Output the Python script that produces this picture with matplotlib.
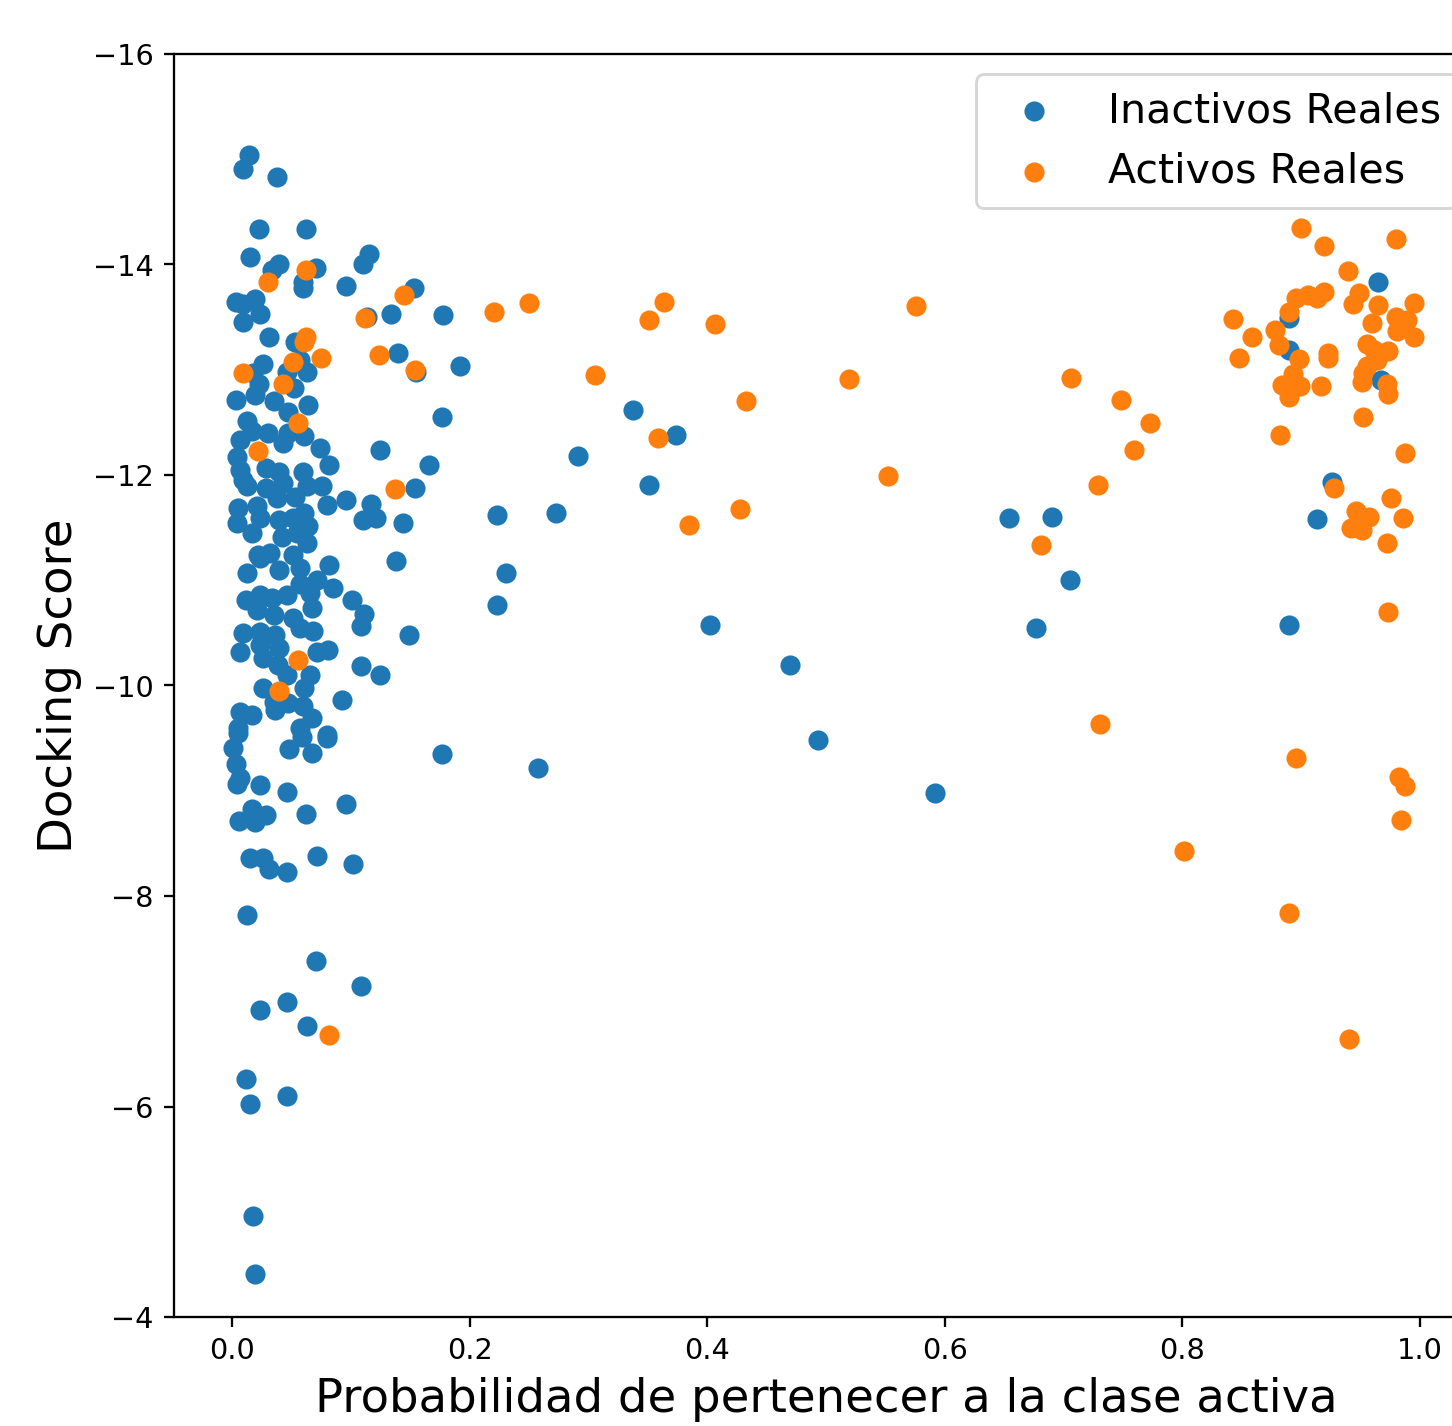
import matplotlib
matplotlib.use("Agg")
import matplotlib.pyplot as plt

# probabilidad predicha / docking score de los inactivos reales
inactivos_prob = [
    0.014, 0.009, 0.038, 0.023, 0.062, 0.015, 0.040, 0.034, 0.071, 0.060,
    0.060, 0.096, 0.115, 0.110, 0.153, 0.003, 0.009, 0.019, 0.024, 0.009,
    0.134, 0.114, 0.178, 0.031, 0.053, 0.140, 0.057, 0.063, 0.026, 0.018,
    0.023, 0.046, 0.052, 0.155, 0.192, 0.177, 0.003, 0.019, 0.035, 0.064,
    0.047, 0.013, 0.017, 0.007, 0.030, 0.043, 0.047, 0.061, 0.074, 0.004,
    0.082, 0.007, 0.029, 0.040, 0.060, 0.009, 0.013, 0.029, 0.043, 0.063,
    0.076, 0.080, 0.096, 0.005, 0.021, 0.038, 0.053, 0.061, 0.004, 0.017,
    0.024, 0.040, 0.051, 0.064, 0.042, 0.055, 0.063, 0.022, 0.032, 0.051,
    0.110, 0.117, 0.121, 0.144, 0.125, 0.166, 0.154, 0.138,
    0.024, 0.013, 0.040, 0.057, 0.082, 0.072, 0.085, 0.057, 0.046, 0.012,
    0.024, 0.034, 0.066, 0.067, 0.101, 0.111, 0.109, 0.021, 0.035, 0.051,
    0.057, 0.068, 0.009, 0.024, 0.036, 0.007, 0.024, 0.040, 0.026, 0.039,
    0.072, 0.081, 0.109, 0.026, 0.046, 0.066, 0.061, 0.035, 0.036, 0.047,
    0.060, 0.067, 0.093, 0.007, 0.017, 0.005, 0.057, 0.080, 0.125, 0.149,
    0.005, 0.001, 0.003, 0.007, 0.004, 0.024, 0.048, 0.059, 0.067, 0.080,
    0.046, 0.096, 0.017, 0.029, 0.006, 0.019, 0.062, 0.015, 0.026, 0.031,
    0.046, 0.072, 0.102, 0.177, 0.258,
    0.013, 0.071, 0.109, 0.046, 0.024, 0.063, 0.012, 0.015, 0.046, 0.018,
    0.019,
    0.231, 0.223, 0.223, 0.273, 0.291, 0.351, 0.338, 0.374,
    0.402, 0.470, 0.493, 0.592, 0.654, 0.690, 0.705, 0.677,
    0.890, 0.890, 0.965, 0.967, 0.926, 0.913, 0.890,
]
inactivos_score = [
    -15.04, -14.91, -14.83, -14.34, -14.34, -14.07, -14.00, -13.95, -13.97, -13.83,
    -13.78, -13.79, -14.10, -14.00, -13.78, -13.64, -13.62, -13.67, -13.53, -13.45,
    -13.53, -13.50, -13.52, -13.31, -13.26, -13.16, -13.09, -12.98, -13.05, -12.97,
    -12.86, -12.98, -12.83, -12.98, -13.03, -12.55, -12.71, -12.76, -12.70, -12.66,
    -12.60, -12.51, -12.42, -12.33, -12.40, -12.30, -12.40, -12.37, -12.26, -12.17,
    -12.09, -12.05, -12.07, -12.03, -12.03, -11.95, -11.89, -11.88, -11.92, -11.89,
    -11.89, -11.71, -11.76, -11.69, -11.70, -11.78, -11.79, -11.64, -11.54, -11.45,
    -11.59, -11.57, -11.59, -11.51, -11.41, -11.45, -11.35, -11.24, -11.26, -11.24,
    -11.57, -11.72, -11.59, -11.54, -12.24, -12.09, -11.88, -11.18,
    -11.21, -11.07, -11.10, -11.12, -11.14, -11.00, -10.93, -10.96, -10.86, -10.81,
    -10.86, -10.83, -10.88, -10.74, -10.81, -10.68, -10.56, -10.72, -10.67, -10.64,
    -10.55, -10.52, -10.50, -10.51, -10.48, -10.32, -10.38, -10.36, -10.26, -10.19,
    -10.32, -10.34, -10.18, -9.98, -10.10, -10.10, -9.98, -9.84, -9.77, -9.83,
    -9.80, -9.69, -9.86, -9.75, -9.72, -9.60, -9.60, -9.53, -10.10, -10.48,
    -9.55, -9.41, -9.25, -9.12, -9.06, -9.05, -9.40, -9.51, -9.36, -9.50,
    -8.99, -8.87, -8.83, -8.77, -8.71, -8.70, -8.78, -8.36, -8.36, -8.26,
    -8.23, -8.38, -8.30, -9.35, -9.22,
    -7.82, -7.38, -7.14, -6.99, -6.92, -6.76, -6.26, -6.02, -6.10, -4.96,
    -4.41,
    -11.07, -11.62, -10.76, -11.64, -12.18, -11.90, -12.62, -12.38,
    -10.57, -10.19, -9.48, -8.98, -11.59, -11.60, -11.00, -10.55,
    -13.49, -13.19, -13.83, -12.90, -11.93, -11.58, -10.57,
]

# probabilidad predicha / docking score de los activos reales
activos_prob = [
    0.009, 0.030, 0.062, 0.062, 0.061, 0.051, 0.075, 0.043, 0.056, 0.022,
    0.112, 0.124, 0.145, 0.154, 0.137, 0.056, 0.040, 0.082,
    0.221, 0.250, 0.306, 0.351, 0.364, 0.359, 0.407, 0.433, 0.385, 0.428,
    0.519, 0.576, 0.552, 0.706, 0.681, 0.748, 0.773, 0.759, 0.729, 0.731,
    0.801,
    0.900, 0.919, 0.980, 0.939, 0.843, 0.859, 0.848, 0.896, 0.906, 0.919,
    0.913, 0.890, 0.878, 0.881, 0.898, 0.893, 0.884, 0.899, 0.890, 0.923,
    0.923, 0.917, 0.949, 0.944, 0.965, 0.995, 0.960, 0.980, 0.989, 0.981,
    0.995, 0.955, 0.961, 0.973, 0.964, 0.955, 0.952, 0.951, 0.972, 0.973,
    0.952, 0.882, 0.987, 0.928, 0.976, 0.946, 0.957, 0.986, 0.942, 0.951,
    0.972, 0.973, 0.896, 0.890, 0.982, 0.987, 0.984, 0.940,
]
activos_score = [
    -12.97, -13.83, -13.95, -13.31, -13.26, -13.07, -13.11, -12.86, -12.49, -12.23,
    -13.49, -13.14, -13.71, -13.00, -11.87, -10.24, -9.95, -6.68,
    -13.55, -13.63, -12.95, -13.47, -13.64, -12.35, -13.43, -12.70, -11.52, -11.68,
    -12.91, -13.60, -11.99, -12.92, -11.33, -12.71, -12.49, -12.24, -11.90, -9.63,
    -8.43,
    -14.35, -14.17, -14.24, -13.94, -13.48, -13.31, -13.11, -13.68, -13.71, -13.74,
    -13.68, -13.55, -13.38, -13.23, -13.10, -12.96, -12.85, -12.84, -12.74, -13.16,
    -13.11, -12.84, -13.73, -13.62, -13.61, -13.63, -13.44, -13.50, -13.47, -13.37,
    -13.31, -13.24, -13.19, -13.18, -13.09, -13.03, -12.97, -12.88, -12.86, -12.77,
    -12.55, -12.38, -12.21, -11.88, -11.78, -11.66, -11.60, -11.59, -11.50, -11.48,
    -11.35, -10.70, -9.31, -7.84, -9.13, -9.04, -8.72, -6.64,
]

fig = plt.figure(figsize=(7.015, 6.89), dpi=207)
ax = fig.add_axes([0.1198, 0.0764, 0.898, 0.8857])

ax.scatter(inactivos_prob, inactivos_score, label="Inactivos Reales")
ax.scatter(activos_prob, activos_score, label="Activos Reales")

ax.set_xlim(-0.0488, 1.0488)
ax.set_ylim(-4, -16)
ax.set_yticks([-16, -14, -12, -10, -8, -6, -4])
ax.set_xticks([0.0, 0.2, 0.4, 0.6, 0.8, 1.0])

ax.set_xlabel("Probabilidad de pertenecer a la clase activa", fontsize=16.2)
ax.set_ylabel("Docking Score", fontsize=16.2)
ax.legend(loc="upper right", fontsize=14.3)

fig.savefig("out.png", dpi=207)
